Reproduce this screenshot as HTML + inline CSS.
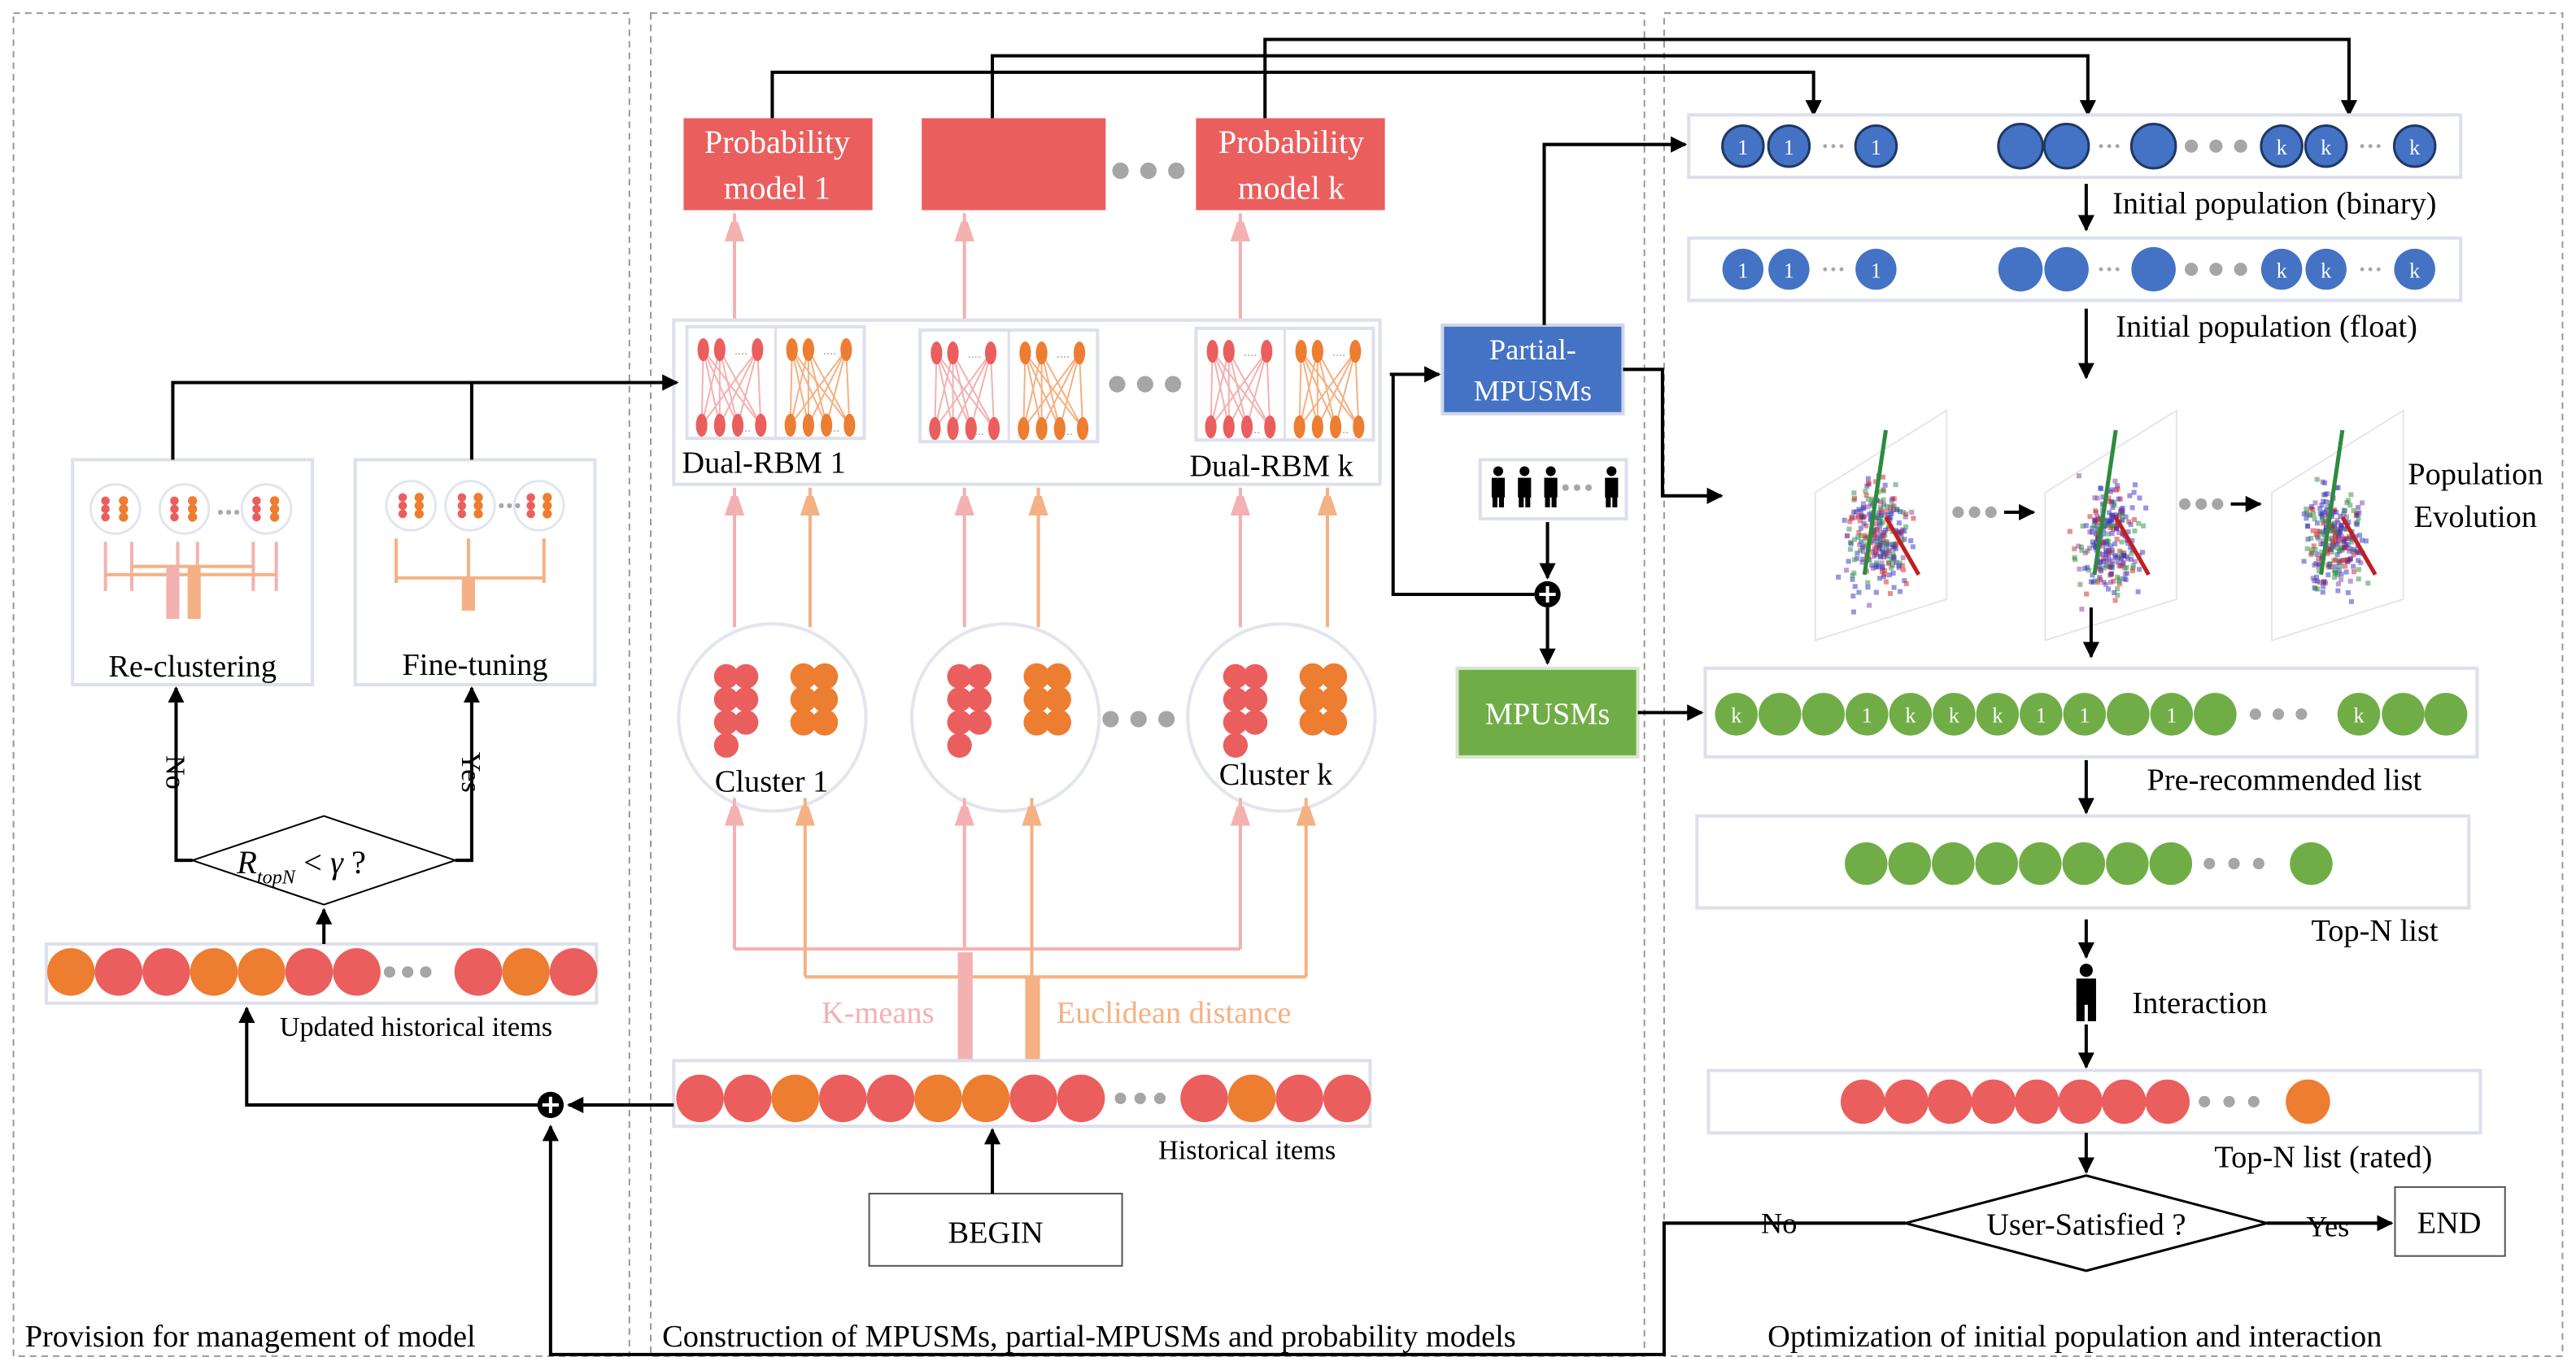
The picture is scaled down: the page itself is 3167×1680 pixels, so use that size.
<!DOCTYPE html>
<html><head><meta charset="utf-8"><style>
html,body{margin:0;padding:0;background:#fff;width:3167px;height:1680px;overflow:hidden}
svg{display:block}
text{font-family:"Liberation Serif",serif;fill:#000}
</style></head><body>
<svg id="s" width="3167" height="1680" viewBox="0 0 1568 832" xmlns="http://www.w3.org/2000/svg">
<defs>
<marker id="ab" markerWidth="10" markerHeight="10" refX="9" refY="5" orient="auto" markerUnits="userSpaceOnUse"><path d="M0,0 L10,5 L0,10 z" fill="#000"/></marker>
<marker id="ap" markerWidth="12" markerHeight="18" refX="17" refY="6" orient="auto" markerUnits="userSpaceOnUse"><path d="M0,0 L18,6 L0,12 z" fill="#F4B1B1"/></marker>
<marker id="ao" markerWidth="12" markerHeight="18" refX="17" refY="6" orient="auto" markerUnits="userSpaceOnUse"><path d="M0,0 L18,6 L0,12 z" fill="#F4B183"/></marker>
</defs>
<g id="g"></g>
<text x="15" y="820" font-size="19">Provision for management of model</text>
<text x="403" y="820" font-size="19">Construction of MPUSMs, partial-MPUSMs and  probability models</text>
<text x="1076" y="820" font-size="19">Optimization of initial population and interaction</text>
<text x="473" y="93" font-size="20" text-anchor="middle" style="fill:#fff">Probability</text>
<text x="473" y="121" font-size="20" text-anchor="middle" style="fill:#fff">model 1</text>
<text x="786" y="93" font-size="20" text-anchor="middle" style="fill:#fff">Probability</text>
<text x="786" y="121" font-size="20" text-anchor="middle" style="fill:#fff">model k</text>
<text x="415" y="288" font-size="19">Dual-RBM 1</text>
<text x="724" y="290" font-size="19">Dual-RBM k</text>
<text x="435" y="482" font-size="19">Cluster 1</text>
<text x="742" y="478" font-size="19">Cluster k</text>
<text x="500" y="623" font-size="19" style="fill:#F4B1B1">K-means</text>
<text x="643" y="623" font-size="19" style="fill:#F4B183">Euclidean distance</text>
<text x="705" y="706" font-size="17">Historical items</text>
<text x="606" y="757" font-size="19" text-anchor="middle">BEGIN</text>
<text x="170" y="631" font-size="17">Updated historical items</text>
<text x="117" y="412" font-size="19" text-anchor="middle">Re-clustering</text>
<text x="289" y="411" font-size="19" text-anchor="middle">Fine-tuning</text>
<text x="144" y="532" font-size="20" font-style="italic">R<tspan font-size="12" dy="6">topN</tspan><tspan dy="-6" font-style="normal"> &lt; </tspan>γ<tspan font-style="normal"> ?</tspan></text>
<text x="0" y="0" font-size="17" transform="translate(101,460) rotate(90)">No</text>
<text x="0" y="0" font-size="17" transform="translate(281,458) rotate(90)">Yes</text>
<text x="933" y="219" font-size="18" text-anchor="middle" style="fill:#fff">Partial-</text>
<text x="933" y="244" font-size="18" text-anchor="middle" style="fill:#fff">MPUSMs</text>
<text x="942" y="441" font-size="19" text-anchor="middle" style="fill:#fff">MPUSMs</text>
<text x="1286" y="130" font-size="19">Initial population (binary)</text>
<text x="1288" y="205" font-size="19">Initial population (float)</text>
<text x="1507" y="295" font-size="19" text-anchor="middle">Population</text>
<text x="1507" y="321" font-size="19" text-anchor="middle">Evolution</text>
<text x="1307" y="481" font-size="19">Pre-recommended list</text>
<text x="1407" y="573" font-size="19">Top-N list</text>
<text x="1298" y="617" font-size="19">Interaction</text>
<text x="1348" y="711" font-size="19">Top-N list (rated)</text>
<text x="1270" y="752" font-size="19" text-anchor="middle">User-Satisfied ?</text>
<text x="1072" y="751" font-size="18">No</text>
<text x="1404" y="753" font-size="18">Yes</text>
<text x="1491" y="751" font-size="19" text-anchor="middle">END</text>
</svg>
<script>
var o=[];
function R(x,y,w,h,f,s,sw,da){o.push('<rect x="'+x+'" y="'+y+'" width="'+w+'" height="'+h+'" fill="'+(f||'none')+'" stroke="'+(s||'none')+'" stroke-width="'+(sw||1)+'"'+(da?' stroke-dasharray="'+da+'"':'')+'/>');}
function C(x,y,r,f,s,sw){o.push('<circle cx="'+x+'" cy="'+y+'" r="'+r+'" fill="'+f+'"'+(s?' stroke="'+s+'" stroke-width="'+(sw||1)+'"':'')+'/>');}
function E(x,y,rx,ry,f){o.push('<ellipse cx="'+x+'" cy="'+y+'" rx="'+rx+'" ry="'+ry+'" fill="'+f+'"/>');}
function P(d,s,sw,m,f){o.push('<path d="'+d+'" fill="'+(f||'none')+'" stroke="'+(s||'#000')+'" stroke-width="'+(sw||2)+'"'+(m?' marker-end="url(#'+m+')"':'')+'/>');}
function T(x,y,t,fs,f){o.push('<text x="'+x+'" y="'+y+'" font-size="'+fs+'" text-anchor="middle" style="fill:'+(f||'#000')+'">'+t+'</text>');}
function dots(x,y,n,gap,r){for(var i=0;i<n;i++)C(x+i*gap,y,r||3.5,'#A6A6A6');}
var RED='#EB5E5E',OR='#ED7D31',PK='#F4B1B1',LO='#F4B183',BL='#4472C4',GR='#70AD47',BD='#DDE0EC';
R(8,8,375,818,'none','#999',1,'4,3');R(396,8,605,818,'none','#999',1,'4,3');R(1013,8,547,818,'none','#999',1,'4,3');
R(416,72,115,56,RED);R(561,72,112,56,RED);R(728,72,115,56,RED);dots(682,104,3,17,5);
P('M470,72 V44 H1104 V70','#000',2,'ab');P('M604,72 V34 H1271 V70','#000',2,'ab');P('M770,72 V24 H1430 V70','#000',2,'ab');
[447,587,755].forEach(function(x){P('M'+x+',195 V130','#F4B1B1',2,'ap');});
R(410,195,430,100,'none',BD,2);
function net(x,y,w,c,lc){var tx=[x+7,x+17,x+w-8],bx=[x+6,x+17,x+28,x+w-6];
 tx.forEach(function(a){bx.forEach(function(b){P('M'+a+','+(y+12)+' L'+b+','+(y+58),lc,1);});});
 tx.forEach(function(a){E(a,y+12,3.5,7,c);});bx.forEach(function(b){E(b,y+58,3.5,7,c);});
 o.push('<text x="'+(x+w-22)+'" y="'+(y+15)+'" font-size="8" style="fill:#aaa">....</text>');o.push('<text x="'+(x+w-18)+'" y="'+(y+62)+'" font-size="8" style="fill:#aaa">...</text>');}
[[418,199],[560,201],[728,200]].forEach(function(p){R(p[0],p[1],108,68,'none',BD,2);P('M'+(p[0]+54)+','+p[1]+' V'+(p[1]+68),BD,1.5);net(p[0]+3,p[1]+2,48,RED,PK);net(p[0]+57,p[1]+2,48,OR,LO);});
dots(680,234,3,17,5);
function cl(cx,cy){C(cx,cy,57,'#fff','#E3E5EE',2);var rx=cx-22,ox=cx+25;
 [[0,0],[1,0],[0,1],[1,1],[0,2],[1,2],[0,3]].forEach(function(q){C(rx+q[0]*12-6,cy-25+q[1]*14,7.5,RED);});
 [[0,0],[1,0],[0,1],[1,1],[0,2],[1,2]].forEach(function(q){C(ox+q[0]*13-6,cy-25+q[1]*14,8,OR);});}
cl(470,437);cl(612,437);cl(780,437);dots(676,438,3,17,5);
[[447,PK,'ap'],[493,LO,'ao'],[587,PK,'ap'],[632,LO,'ao'],[755,PK,'ap'],[808,LO,'ao']].forEach(function(a){P('M'+a[0]+',382 V297',a[1],2,a[2]);});
P('M447,578 H755','#F4B1B1',2);P('M490,595 H795','#F4B183',2);
[[447,578,PK,'ap'],[587,578,PK,'ap'],[755,578,PK,'ap'],[490,595,LO,'ao'],[628,595,LO,'ao'],[795,595,LO,'ao']].forEach(function(a){P('M'+a[0]+','+a[1]+' V486',a[2],2,a[3]);});
R(583,580,9,66,PK);R(624,596,9,50,LO);
R(410,646,424,40,'none',BD,2);
var h=[RED,RED,OR,RED,RED,OR,OR,RED,RED];h.forEach(function(c,i){C(426+i*29,669,14.5,c);});dots(682,669,3,12,3.5);
[RED,OR,RED,RED].forEach(function(c,i){C(733+i*29,669,14.5,c);});
R(529,727,154,44,'none','#555',1);P('M604,727 V688','#000',2,'ab');
P('M410,673 H346','#000',2,'ab');P('M335,673 H150 V614','#000',2,'ab');P('M1160,745 H1013 V825 H335 V686','#000',2,'ab');
C(335,673,8,'#000');P('M330,673 H340 M335,668 V678','#fff',2);
R(28,575,335,36,'none',BD,2);
[OR,RED,RED,OR,OR,RED,RED].forEach(function(c,i){C(43+i*29,592,14.5,c);});dots(237,592,3,11,3.5);[RED,OR,RED].forEach(function(c,i){C(291+i*29,592,14.5,c);});
P('M197,575 V554','#000',2,'ab');
o.push('<polygon points="117,524 197,497 277,524 197,551" fill="#fff" stroke="#000" stroke-width="1"/>');
P('M117,524 H107 V419','#000',2,'ab');P('M277,524 H287 V419','#000',2,'ab');
R(44,280,146,137,'none',BD,2);R(216,280,146,137,'none',BD,2);
[[70,310],[112,310],[162,310]].forEach(function(p){C(p[0],p[1],15,'#fff','#E3E5EE',1.5);for(var r=0;r<3;r++){C(p[0]-6,p[1]-5+r*5,2.6,RED);C(p[0]+5,p[1]-5+r*5,2.8,OR);}});dots(134,312,3,5,1.5);
P('M64,360 V330 M80,360 V330 M108,360 V330 M120,360 V330 M154,360 V330 M168,360 V330','#F4B1B1',2);
P('M64,350 H168 M80,345 H154','#F4B183',2);R(101,345,8,32,PK);R(114,345,8,32,LO);
[[250,308],[286,308],[328,308]].forEach(function(p){C(p[0],p[1],15,'#fff','#E3E5EE',1.5);for(var r=0;r<3;r++){C(p[0]-5,p[1]-5+r*5,2.6,RED);C(p[0]+5,p[1]-5+r*5,2.8,OR);}});dots(305,308,3,5,1.5);
P('M241,355 V328 M285,355 V328 M331,355 V328 M241,352 H331','#F4B183',2);R(281,352,8,20,LO);
P('M105,280 V233 H412','#000',2,'ab');P('M287,280 V233','#000',2);
R(878,198,110,54,BL,'#D0D6E8',2);P('M846,228 H876','#000',2,'ab');
P('M940,198 V88 H1026','#000',2,'ab');P('M988,225 H1012 V302 H1048','#000',2,'ab');
P('M848,228 V362 H934','#000',2);
R(901,280,89,36,'none',BD,2);
[912,928,944,981].forEach(function(x){C(x,287,3,'#000');R(x-4,291,8,12,'#000');R(x-3.5,302,3,7,'#000');R(x+0.5,302,3,7,'#000');});dots(953,297,3,7,2);
P('M942,318 V352','#000',2,'ab');C(942,362,8,'#000');P('M937,362 H947 M942,357 V367','#fff',2);P('M942,370 V404','#000',2,'ab');
R(887,407,110,54,GR,'#D8E6D0',2);P('M997,434 H1036','#000',2,'ab');
function brow(y,bd){R(1028,y-19,470,38,'none',BD,2);var s=bd?'#1F3864':null;
 [[1061,1],[1089,1]].forEach(function(p){C(p[0],y,12.5,BL,s,1.5);T(p[0],y+5,'1',13,'#fff');});
 dots(1111,y,3,5,1.2);C(1142,y,12.5,BL,s,1.5);T(1142,y+5,'1',13,'#fff');
 C(1230,y,13.5,BL,s,1.5);C(1258,y,13.5,BL,s,1.5);dots(1279,y,3,5,1.2);C(1311,y,13.5,BL,s,1.5);dots(1334,y,3,15,4);
 [1389,1416].forEach(function(x){C(x,y,12.5,BL,s,1.5);T(x,y+5,'k',13,'#fff');});dots(1438,y,3,5,1.2);C(1470,y,12.5,BL,s,1.5);T(1470,y+5,'k',13,'#fff');}
brow(89,true);brow(164,false);
P('M1270,112 V140','#000',2,'ab');P('M1270,188 V230','#000',2,'ab');
var seed=7;function rnd(){seed=(seed*9301+49297)%233280;return seed/233280;}
function gs(){return (rnd()+rnd()+rnd())/3;}
[1100,1240,1378].forEach(function(x0){P('M'+(x0+5)+',300 L'+(x0+85)+',250 L'+(x0+85)+',365 L'+(x0+5)+',390 Z','#E6E6E6',1);
 var cols=['#3030C0','#2E8B3E','#D02020','#8040A0','#3030C0'];
 for(var i=0;i<260;i++){var c=cols[Math.floor(rnd()*5)];var px=x0+15+gs()*55,py=280+gs()*95;o.push('<rect x="'+px.toFixed(1)+'" y="'+py.toFixed(1)+'" width="3" height="3" fill="'+c+'" opacity="0.5"/>');}
 P('M'+(x0+35)+',350 L'+(x0+48)+',262','#2E8B3E',2.5);P('M'+(x0+48)+',315 L'+(x0+68)+',350','#C02020',2.5);});
dots(1192,312,3,10,3.5);P('M1220,312 H1238','#000',2,'ab');dots(1330,307,3,10,3.5);P('M1358,307 H1376','#000',2,'ab');
P('M1273,370 V400','#000',2,'ab');
R(1038,407,470,54,'none',BD,2);
var gl=['k','','','1','k','k','k','1','1','','1',''];gl.forEach(function(t,i){var x=1057+i*26.5;C(x,435,13,GR);if(t)T(x,440,t,13,'#fff');});
dots(1373,435,3,14,3.5);C(1436,435,13,GR);T(1436,440,'k',13,'#fff');C(1463,435,13,GR);C(1489,435,13,GR);
P('M1270,463 V495','#000',2,'ab');
R(1033,497,470,56,'none',BD,2);for(var i=0;i<8;i++)C(1136+i*26.5,526,13,GR);dots(1345,526,3,15,3.5);C(1407,526,13,GR);
P('M1270,560 V583','#000',2,'ab');C(1270,591,4,'#000');R(1264,596,12,16,'#000');R(1264,611,5,11,'#000');R(1271,611,5,11,'#000');P('M1270,624 V650','#000',2,'ab');
R(1040,652,470,38,'none',BD,2);for(var i=0;i<8;i++)C(1134+i*26.5,671,13.5,RED);dots(1342,671,3,15,3.5);C(1405,671,13.5,OR);
P('M1270,690 V714','#000',2,'ab');
o.push('<polygon points="1160,745 1270,716 1380,745 1270,774" fill="#fff" stroke="#000" stroke-width="1.5"/>');
P('M1380,745 H1456','#000',2,'ab');R(1458,723,67,42,'#fff','#555',1);
document.getElementById('g').innerHTML=o.join('');
</script>
</body></html>
